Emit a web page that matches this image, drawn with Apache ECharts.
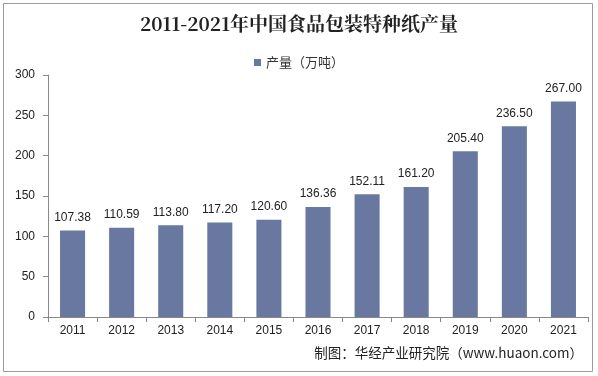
<!DOCTYPE html>
<html>
<head>
<meta charset="utf-8">
<script src="https://cdn.jsdelivr.net/npm/echarts@6/dist/echarts.min.js"></script>
<style>
  html, body { margin: 0; padding: 0; background: #fff; }
  #chart { width: 598px; height: 376px; }
</style>
</head>
<body>
<div id="chart"></div>
<script>
// 2011-2021 中国食品包装特种纸产量
const years = ['2011', '2012', '2013', '2014', '2015', '2016', '2017', '2018', '2019', '2020', '2021']
const output = [107.38, 110.59, 113.80, 117.20, 120.60, 136.36, 152.11, 161.20, 205.40, 236.50, 267.00]
const yTicks = [0, 50, 100, 150, 200, 250, 300]

const axisGray = '#888'
const chart = echarts.init(document.getElementById('chart'), null, { renderer: 'canvas' })

chart.setOption({
  animation: false,
  backgroundColor: '#fff',
  title: {
    text: '2011-2021年中国食品包装特种纸产量',
    left: 'center',
    top: 9,
    textStyle: { fontFamily: 'Noto Serif CJK SC, serif', fontSize: 19, fontWeight: 'bold', color: '#222' },
  },
  legend: {
    top: 51,
    left: 'center',
    itemWidth: 7,
    itemHeight: 7,
    icon: 'rect',
    itemGap: 4,
    textStyle: { fontSize: 13, color: '#333', fontFamily: 'Noto Sans CJK SC' },
    data: ['产量（万吨）'],
  },
  graphic: [
    {
      type: 'rect',
      shape: { x: 3.5, y: 3.5, width: 589, height: 368 },
      style: { fill: 'none', stroke: '#9a9a9a', lineWidth: 1 },
      silent: true,
    },
    {
      type: 'text',
      right: 15,
      top: 346,
      style: { text: '制图：华经产业研究院（www.huaon.com）', fontSize: 13.5, fill: '#222', fontFamily: 'Noto Sans CJK SC' },
    },
  ],
  grid: { left: 48, right: 10, top: 75, bottom: 59, containLabel: false },
  xAxis: {
    type: 'category',
    data: years,
    axisLine: { lineStyle: { color: axisGray } },
    axisTick: { show: true, alignWithLabel: false, length: 5, lineStyle: { color: axisGray } },
    axisLabel: { color: '#222', fontSize: 12, margin: 8, fontFamily: 'Liberation Sans, Arial' },
  },
  yAxis: {
    type: 'value',
    min: yTicks[0],
    max: yTicks[yTicks.length - 1],
    interval: 50,
    axisLine: { show: true, lineStyle: { color: axisGray } },
    axisTick: { show: true, length: 5, lineStyle: { color: axisGray } },
    axisLabel: { color: '#222', fontSize: 12, margin: 13, fontFamily: 'Liberation Sans, Arial' },
    splitLine: { show: false },
  },
  series: [
    {
      name: '产量（万吨）',
      type: 'bar',
      data: output,
      barWidth: '51%',
      itemStyle: { color: '#6878a0' },
      label: {
        show: true,
        position: 'top',
        distance: 7,
        color: '#222',
        fontSize: 12,
        fontFamily: 'Liberation Sans, Arial',
        formatter: (p) => p.value.toFixed(2),
      },
    },
  ],
})
</script>
</body>
</html>
